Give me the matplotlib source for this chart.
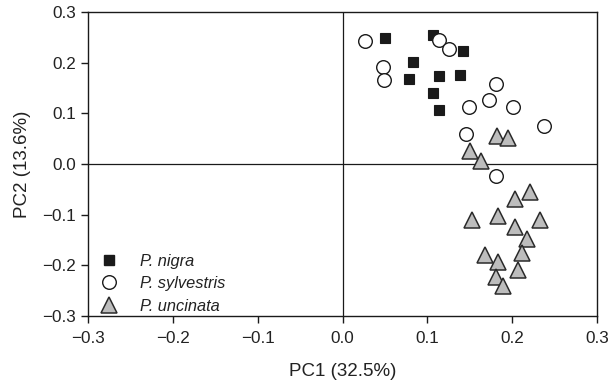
import matplotlib.pyplot as plt
from matplotlib.lines import Line2D

plt.rcParams['font.family'] = ['Liberation Sans', 'DejaVu Sans']

# PCA scores per species
nigra_pc1 = [0.050, 0.107, 0.142, 0.083, 0.078, 0.114, 0.139, 0.107, 0.114]
nigra_pc2 = [0.249, 0.254, 0.223, 0.201, 0.168, 0.174, 0.176, 0.141, 0.106]

sylv_pc1 = [0.027, 0.048, 0.049, 0.114, 0.126, 0.181, 0.173, 0.149, 0.201, 0.238, 0.146, 0.181]
sylv_pc2 = [0.242, 0.191, 0.165, 0.244, 0.227, 0.157, 0.126, 0.113, 0.113, 0.076, 0.060, -0.024]

unc_pc1 = [0.182, 0.195, 0.150, 0.163, 0.221, 0.203, 0.153, 0.183, 0.233,
           0.203, 0.218, 0.168, 0.211, 0.183, 0.207, 0.181, 0.189]
unc_pc2 = [0.055, 0.052, 0.026, 0.005, -0.056, -0.069, -0.111, -0.103, -0.110,
           -0.124, -0.148, -0.179, -0.176, -0.193, -0.209, -0.224, -0.241]

ticks = [-0.3, -0.2, -0.1, 0.0, 0.1, 0.2, 0.3]
tick_text = ['%.1f' % t if t >= 0 else '\u2212%.1f' % -t for t in ticks]

fig = plt.figure(figsize=(6.13, 3.88), dpi=100)
ax = fig.add_axes([0.1436, 0.1856, 0.8304, 0.7834])

ax.axhline(0, color='#1a1a1a', lw=0.9, zorder=1)
ax.axvline(0, color='#1a1a1a', lw=0.9, zorder=1)

ax.plot(nigra_pc1, nigra_pc2, 's', ms=6.8, mfc='#1a1a1a', mec='#1a1a1a', mew=0.8,
        ls='none', zorder=3)
ax.plot(sylv_pc1, sylv_pc2, 'o', ms=9.8, mfc='white', mec='#1a1a1a', mew=1.0,
        ls='none', zorder=3)
ax.plot(unc_pc1, unc_pc2, '^', ms=11.5, mfc='#bdbdbd', mec='#2a2a2a', mew=1.1,
        ls='none', zorder=3)

ax.set_xlim(-0.3, 0.3)
ax.set_ylim(-0.3, 0.3)
ax.set_xticks(ticks)
ax.set_yticks(ticks)
ax.set_xticklabels(tick_text)
ax.set_yticklabels(tick_text)
ax.tick_params(direction='out', length=5, width=1, labelsize=12.3,
               colors='#1a1a1a', labelcolor='#222222', top=False, right=False)
ax.tick_params(axis='x', pad=6)
for side in ax.spines.values():
    side.set_linewidth(1.0)
    side.set_color('#1a1a1a')

ax.set_xlabel('PC1 (32.5%)', fontsize=13.5, color='#222222', labelpad=12)
ax.set_ylabel('PC2 (13.6%)', fontsize=13.5, color='#222222', labelpad=8)

handles = [
    Line2D([], [], marker='s', ms=6.8, mfc='#1a1a1a', mec='#1a1a1a', ls='none'),
    Line2D([], [], marker='o', ms=9.8, mfc='white', mec='#1a1a1a', mew=1.0, ls='none'),
    Line2D([], [], marker='^', ms=11.5, mfc='#bdbdbd', mec='#2a2a2a', mew=1.1, ls='none'),
]
leg = ax.legend(handles, ['P. nigra', 'P. sylvestris', 'P. uncinata'],
                loc='lower left', bbox_to_anchor=(0.011, 0.0), frameon=False,
                prop={'style': 'italic', 'size': 11.8},
                handlelength=1.6, handletextpad=1.1, labelspacing=0.45,
                borderaxespad=0.0, borderpad=0.15)
for t in leg.get_texts():
    t.set_color('#222222')

fig.savefig('out.png', dpi=100)
